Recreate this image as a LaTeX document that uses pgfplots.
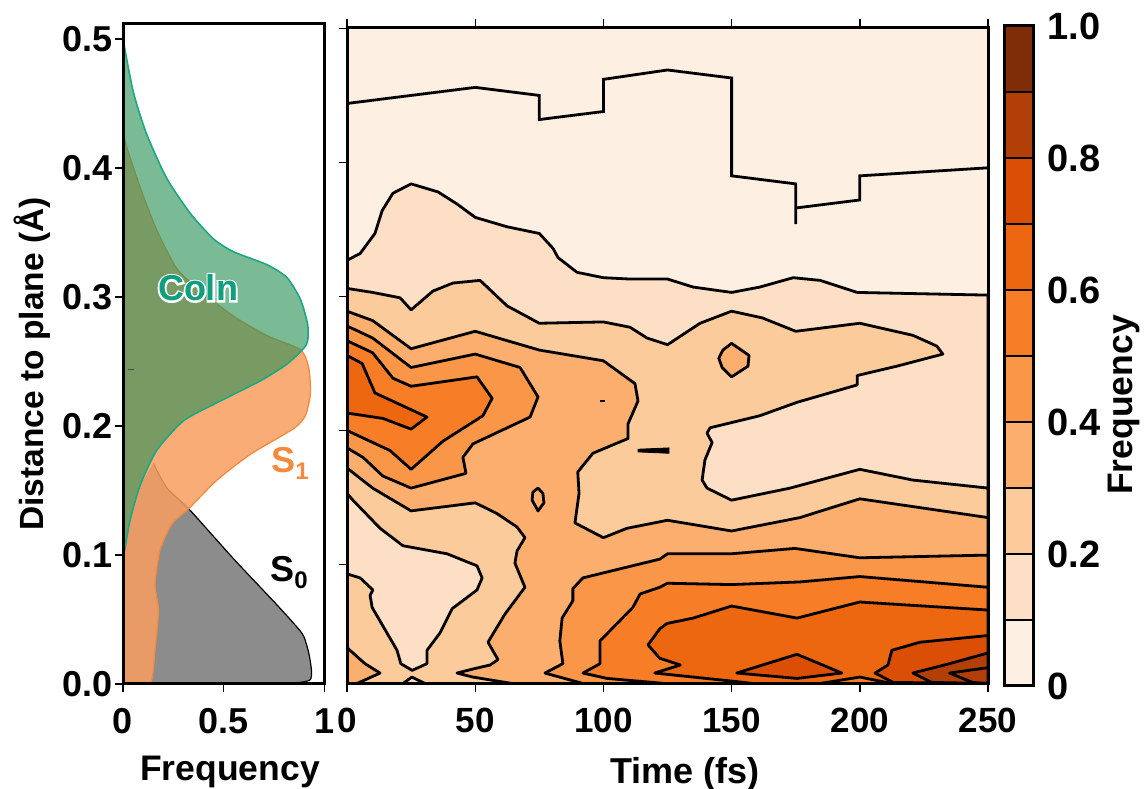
\documentclass[border=0pt]{standalone}
\usepackage{pgfplots}
\pgfplotsset{compat=1.18}
\usepackage{fontspec}
\setmainfont{Liberation Sans}
\newfontface\halofont[FakeBold=10]{Liberation Sans Bold}
\definecolor{c1}{HTML}{FDEFE2}
\definecolor{c2}{HTML}{FCDFC5}
\definecolor{c3}{HTML}{FCCB9B}
\definecolor{c4}{HTML}{FBAE6E}
\definecolor{c5}{HTML}{FA9647}
\definecolor{c6}{HTML}{F77D26}
\definecolor{c7}{HTML}{EC670F}
\definecolor{c8}{HTML}{DB4E05}
\definecolor{c9}{HTML}{B23F07}
\definecolor{c10}{HTML}{7F2D08}
\definecolor{coin}{HTML}{2F9358}
\definecolor{coinl}{HTML}{1BA882}
\definecolor{coint}{HTML}{0F9E7E}
\definecolor{sone}{HTML}{F89E60}
\definecolor{sonel}{HTML}{F58A3F}
\definecolor{sotwo}{HTML}{8C8C8C}
\newcommand{\fs}[1]{\fontsize{#1}{#1}\selectfont\bfseries}
\pgfplotsset{
  base/.style={scale only axis, axis on top, axis line style={line width=3pt,black},
    tick style={line width=1.4pt,black}, major tick length=8pt, tick align=outside,
    /pgf/number format/assume math mode=true},
  ct/.style={draw=black,line width=2.8pt,line join=round,fill=#1},
}
\begin{document}
\begin{tikzpicture}[x=1pt,y=1pt]
\useasboundingbox (0,0) rectangle (1145,789);
% ---------- left panel
\begin{axis}[base, at={(123pt,105pt)}, anchor=south west, width=201.5pt, height=660pt,
  xmin=0,xmax=1,ymin=0,ymax=0.5116,
  xtick={0,0.5,1}, xticklabels={0,0.5,1},
  ytick={0,0.1,0.2,0.3,0.4,0.5}, yticklabels={0.0,0.1,0.2,0.3,0.4,0.5},
  xtick pos=bottom, ytick pos=left,
  xticklabel style={font=\fs{36},yshift=-13pt}, yticklabel style={font=\fs{36},xshift=1pt}]
\addplot[fill=sotwo,draw=none,smooth,tension=0.4] coordinates {
 (.151,.171)(.217,.152)(.325,.136)(.549,.097)(.748,.064)(.847,.047)(.897,.037)(.927,.020)(.927,.003)(.764,0)(0,0)(0,.097)(.035,.127)(.085,.154)} -- cycle;
\addplot[smooth,tension=0.4,draw=black,line width=1.2pt] coordinates {
 (.151,.171)(.217,.152)(.325,.136)(.549,.097)(.748,.064)(.847,.047)(.897,.037)(.927,.020)(.927,.003)(.764,0)};
\addplot[smooth,tension=0.4,fill=sone,fill opacity=.86,draw=sonel,line width=1.3pt] coordinates {
 (0,.430)(.015,.418)(.085,.385)(.167,.352)(.267,.322)(.383,.305)(.549,.285)(.715,.270)(.881,.259)(.922,.245)(.930,.225)(.905,.208)(.847,.198)(.632,.178)(.466,.158)(.333,.137)(.242,.124)(.184,.104)(.159,.077)(.176,.057)(.159,.027)(.134,0)(0,0)} -- cycle;
\addplot[smooth,tension=0.4,fill=coin,fill opacity=.64,draw=coinl,line width=1.6pt] coordinates {
 (0,.500)(.051,.459)(.118,.426)(.217,.392)(.333,.365)(.449,.345)(.549,.335)(.715,.325)(.814,.315)(.881,.298)(.917,.278)(.910,.263)(.814,.248)(.682,.235)(.466,.218)(.300,.204)(.167,.181)(.085,.154)(.035,.127)(.010,.105)(0,.097)} -- cycle;
\addplot[black!70,line width=1pt] coordinates {(.025,.244)(.055,.244)};
\end{axis}
% ---------- contour panel
\begin{axis}[base, at={(347pt,105.5pt)}, anchor=south west, width=641pt, height=656pt,
  xmin=0,xmax=250,ymin=0.0112,ymax=0.5007,
  xtick={0,50,100,150,200,250}, xticklabels={0,50,100,150,200,250},
  ytick={0.1,0.2,0.3,0.4,0.5}, yticklabels={},
  xtick pos=both, ytick pos=left, axis background/.style={fill=c1},
  xticklabel style={font=\fs{35},yshift=-13pt}]
\addplot[draw=black,line width=2.8pt,line join=miter] coordinates {
 (0,.444)(50,.456)(75,.450)(75,.432)(100,.438)(100,.462)(125,.469)(150,.463)(150,.390)(175,.384)(175,.354)(175,.366)(200,.372)(200,.390)(250,.396)};
% c2
\addplot[ct=c2] coordinates {
 (0,.327)(5.1,.332)(10.9,.347)(13.7,.364)(17.9,.377)(25,.384)(35.5,.378)(42.9,.369)(50,.359)(62.4,.352)(75,.347)(80.3,.336)(82.3,.329)(89.7,.318)(100,.314)(110.4,.313)(125,.313)(135,.307)(150,.303)(161,.307)(174,.314)(184.5,.312)(199,.303)(250,.301)(250,.0112)(0,.0112)} -- cycle;
% c3
\addplot[ct=c3] coordinates {
 (0,.306)(10,.303)(20.7,.299)(25,.290)(33.5,.304)(41.3,.310)(51.9,.312)(62.4,.293)(75,.280)(100,.281)(110.4,.277)(117,.269)(125,.264)(137.7,.280)(150,.289)(162,.284)(175,.274)(200,.280)(220.7,.271)(230,.263)(232.4,.257)(214.5,.248)(199,.241)(199,.234)(175.5,.221)(161,.211)(141.6,.202)(140.4,.198)(142.4,.191)(139.6,.178)(138.5,.163)(140.4,.157)(150,.148)(172.8,.157)(200,.171)(220.7,.163)(250,.157)(250,.0112)(0,.0112)} -- cycle;
% island c2
\addplot[ct=c2] coordinates {
 (0,.153)(2.3,.148)(12.9,.127)(21.8,.114)(39,.108)(50.7,.099)(52.7,.090)(50.7,.081)(41,.067)(36.3,.049)(31.2,.036)(31.2,.026)(25.4,.021)(21,.026)(19.5,.036)(9.8,.068)(9,.077)(10.1,.081)(5.1,.090)(0,.093)} -- cycle;
\addplot[ct=c2] coordinates {(21.8,.0112)(25.3,.016)(30.4,.0112)} -- cycle;
% c4
\addplot[ct=c4] coordinates {
 (0,.289)(10,.282)(25,.261)(50,.274)(75,.260)(100,.252)(112.3,.235)(113.5,.222)(109.6,.205)(109.6,.194)(95.9,.183)(90,.169)(90.5,.153)(88.9,.131)(100,.120)(109.2,.127)(125,.133)(150,.125)(176.7,.135)(183.3,.139)(200,.149)(250,.135)(250,.0112)
 (64.4,.0112)(49.1,.016)(42.9,.019)(49.1,.022)(55.8,.025)(58.9,.029)(55,.042)(61.6,.063)(69.4,.083)(65.5,.101)(66.3,.110)(69.4,.120)(66.3,.128)(58.5,.138)(50,.146)(25,.140)(10,.157)(0,.172)} -- cycle;
\addplot[ct=c4] coordinates {(0,.038)(7,.026)(12.9,.019)(3.9,.0112)(0,.0112)} -- cycle;
% upper lobes
\addplot[ct=c5] coordinates {
 (0,.278)(10,.269)(25,.247)(50,.257)(67.5,.247)(74.5,.225)(71.4,.210)(49.1,.190)(45.2,.180)(46.4,.168)(25,.157)(14,.166)(6.2,.180)(0,.187)} -- cycle;
\addplot[ct=c6] coordinates {
 (0,.267)(10,.258)(17.9,.239)(25,.233)(50.7,.240)(56.6,.224)(53,.211)(37.4,.192)(25,.171)(16.8,.185)(0,.200)} -- cycle;
\addplot[ct=c7] coordinates {
 (0,.256)(5.9,.250)(10.9,.228)(31.2,.210)(25,.201)(14,.209)(0,.213)} -- cycle;
% lower lobes
\addplot[ct=c5] coordinates {
 (92,.0112)(77.2,.019)(84.2,.026)(83,.043)(83.9,.060)(88.1,.073)(88.1,.082)(92,.090)(122,.104)(125,.108)(150,.108)(174.7,.112)(200,.105)(250,.107)(250,.0112)} -- cycle;
\addplot[ct=c6] coordinates {
 (124,.0112)(101.4,.015)(92,.019)(98.7,.026)(98.7,.043)(111.5,.068)(114.3,.078)(122,.083)(125,.086)(150,.085)(176.7,.087)(200,.091)(250,.083)(250,.0112)} -- cycle;
\addplot[ct=c7] coordinates {
 (158.3,.0112)(150,.013)(120,.019)(130,.025)(122,.030)(117.4,.040)(122,.052)(124.8,.056)(135,.060)(150,.069)(175.5,.060)(200,.072)(250,.066)(250,.0112)} -- cycle;
\addplot[ct=c6] coordinates {(184.5,.0112)(200,.016)(212.5,.0112)} -- cycle;
\addplot[ct=c8] coordinates {(152,.019)(175.5,.033)(193,.019)(175.5,.015)} -- cycle;
\addplot[ct=c8] coordinates {(213,.012)(205.9,.019)(211,.025)(212.5,.036)(223.5,.042)(250,.047)(250,.0112)} -- cycle;
\addplot[ct=c9] coordinates {(228,.012)(220.7,.019)(235,.026)(250,.034)(250,.0112)} -- cycle;
\addplot[ct=c9] coordinates {(244,.012)(235,.019)(250,.023)(250,.0112)} -- cycle;
% small islands
\addplot[ct=c4] coordinates {(150,.265)(156.8,.256)(156.4,.248)(150,.240)(146.3,.247)(145,.254)(146.6,.260)} -- cycle;
\addplot[ct=c4] coordinates {(74.5,.157)(76.4,.153)(76.8,.146)(74.5,.140)(72.2,.148)(72.5,.154)} -- cycle;
\addplot[draw=black,line width=2.4pt] coordinates {(98.7,.222)(100.6,.222)};
\addplot[fill=black,draw=black,line width=.8pt] coordinates {(113.5,.186)(125.6,.187)(125.6,.183)(113.5,.184)} -- cycle;
\end{axis}
% ---------- colour bar
\begin{axis}[base, at={(1004pt,103pt)}, anchor=south west, width=29pt, height=660pt,
  xmin=0,xmax=1,ymin=0,ymax=1, xtick=\empty,
  ytick={0,0.2,0.4,0.6,0.8,1}, yticklabels={0,0.2,0.4,0.6,0.8,1.0},
  ytick pos=right, major tick length=0pt,
  yticklabel style={font=\fs{38},xshift=11pt,anchor=west}]
\addplot[ct=c1] coordinates {(0,0)(1,0)(1,.1)(0,.1)} -- cycle;
\addplot[ct=c2] coordinates {(0,.1)(1,.1)(1,.2)(0,.2)} -- cycle;
\addplot[ct=c3] coordinates {(0,.2)(1,.2)(1,.3)(0,.3)} -- cycle;
\addplot[ct=c4] coordinates {(0,.3)(1,.3)(1,.4)(0,.4)} -- cycle;
\addplot[ct=c5] coordinates {(0,.4)(1,.4)(1,.5)(0,.5)} -- cycle;
\addplot[ct=c6] coordinates {(0,.5)(1,.5)(1,.6)(0,.6)} -- cycle;
\addplot[ct=c7] coordinates {(0,.6)(1,.6)(1,.7)(0,.7)} -- cycle;
\addplot[ct=c8] coordinates {(0,.7)(1,.7)(1,.8)(0,.8)} -- cycle;
\addplot[ct=c9] coordinates {(0,.8)(1,.8)(1,.9)(0,.9)} -- cycle;
\addplot[ct=c10] coordinates {(0,.9)(1,.9)(1,1)(0,1)} -- cycle;
\end{axis}
% ---------- texts
\node[rotate=90,font=\fs{33.5}] at (32,425) {Distance to plane (Å)};
\node[font=\fs{35.5}] at (230,17) {Frequency};
\node[font=\fs{36}] at (685,15) {Time (fs)};
\node[rotate=90,font=\fs{35.5}] at (1124,384) {Frequency};
\node[text=white] at (198,501) {\fontsize{36}{36}\selectfont\halofont Coln};
\node[font=\fs{36},text=coint] at (198,501) {Coln};
\node[font=\fs{36},text=sonel] at (290,326) {S\raisebox{-7pt}{\fs{24}1}};
\node[font=\fs{36},text=black] at (289,216) {S\raisebox{-7pt}{\fs{24}0}};
\end{tikzpicture}
\end{document}
